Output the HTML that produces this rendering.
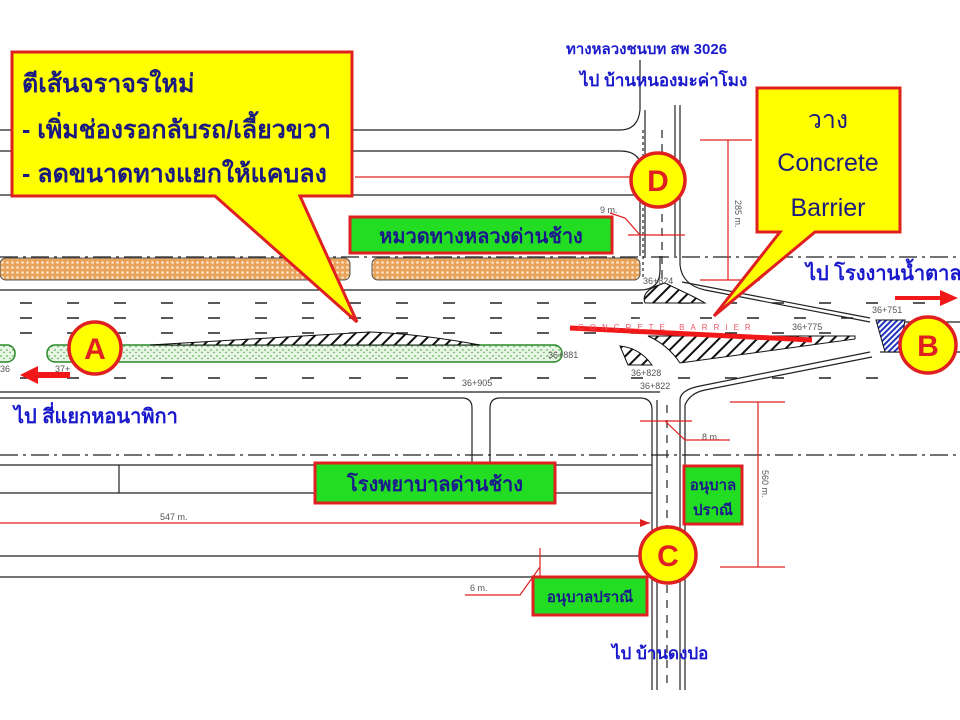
<!DOCTYPE html>
<html><head><meta charset="utf-8"><style>
html,body{margin:0;padding:0;background:#fff;}
svg{display:block;}
text{font-family:"Liberation Sans","Noto Sans CJK SC","WenQuanYi Zen Hei",sans-serif;}
</style></head><body>
<svg width="960" height="720" viewBox="0 0 960 720" xmlns="http://www.w3.org/2000/svg">
<defs>
<pattern id="dots" width="5" height="5" patternUnits="userSpaceOnUse"><rect width="5" height="5" fill="#e9a35a"/><circle cx="2.5" cy="2.5" r="1.3" fill="#fbe7cf"/></pattern>
<pattern id="grn" width="6" height="6" patternUnits="userSpaceOnUse"><rect width="6" height="6" fill="#e8f5e4"/><circle cx="1" cy="2" r="0.9" fill="#5cb85c"/><circle cx="4" cy="4.5" r="0.7" fill="#3c9c3c"/></pattern>
<pattern id="hatch" width="9" height="9" patternUnits="userSpaceOnUse" patternTransform="rotate(45)"><rect width="9" height="9" fill="#fff"/><rect width="2" height="9" fill="#111"/></pattern>
<pattern id="bhatch" width="4" height="4" patternUnits="userSpaceOnUse" patternTransform="rotate(45)"><rect width="4" height="4" fill="#fff"/><rect width="2" height="4" fill="#2233bb"/></pattern>
</defs>
<g fill="none" stroke="#222" stroke-width="1.2">
<path d="M0 130 H620 Q638 130 640 110 V60"/>
<path d="M0 151 H620 Q638 151 641 165"/>
<path d="M0 195 H640"/>
<path d="M645 110 V256 M640 195 V256"/>
<path d="M675 105 V256 M680 105 V256"/>
<path d="M643 130 V280" stroke-dasharray="3 3"/>
<path d="M662 130 V280" stroke-dasharray="8 6"/>
<path d="M0 290 H640 Q660 290 660 270 V256"/>
<path d="M680 256 V265 Q682 285 705 290 L870 322"/>
<path d="M682 282 L870 318"/>
<path d="M0 392 H660"/>
<path d="M0 398 H462 Q472 398 472 408 V465"/>
<path d="M490 465 V408 Q490 398 500 398 H640 Q652 398 652 410 V690"/>
<path d="M657 400 V690"/>
<path d="M680 690 V400 Q680 390 700 386 L870 352"/>
<path d="M685 690 V405 Q690 393 705 390 L872 357"/>
<path d="M667 405 V690" stroke-dasharray="8 7"/>
<path d="M0 465 H652 M0 493 H315 M555 493 H652"/>
<path d="M119 465 V493"/>
<path d="M0 556 H652 M0 577 H533"/>
<path d="M880 322 H960 M880 352 H960"/>
</g>
<path d="M0 257 H960" stroke="#222" stroke-width="1.2" stroke-dasharray="18 5 3 5"/>
<path d="M0 455 H960" stroke="#222" stroke-width="1.2" stroke-dasharray="18 5 3 5"/>
<rect x="0" y="258" width="350" height="22" rx="6" fill="url(#dots)" stroke="#555"/>
<rect x="372" y="258" width="268" height="22" rx="6" fill="url(#dots)" stroke="#555"/>
<g stroke="#222" stroke-width="1.4">
<path d="M20 303 H960" stroke-dasharray="12 35"/>
<path d="M20 318 H640" stroke-dasharray="12 35"/>
<path d="M20 333 H860" stroke-dasharray="12 35"/>
<path d="M20 378 H880" stroke-dasharray="12 35"/>
<path d="M700 318 H860" stroke-dasharray="12 35"/>
</g>
<rect x="-10" y="345" width="25" height="17" rx="8" fill="url(#grn)" stroke="#2a8a2a" stroke-width="1.5"/>
<rect x="47" y="345" width="515" height="17" rx="8" fill="url(#grn)" stroke="#2a8a2a" stroke-width="1.5"/>
<path d="M150 345 Q300 336 370 332 Q420 334 480 345 Z" fill="url(#hatch)" stroke="#111"/>
<path d="M645 303 Q640 290 665 283 L690 295 Q700 300 705 303 Z" fill="url(#hatch)" stroke="#111"/>
<path d="M648 336 L855 336 L855 339 L680 363 Q668 345 648 336 Z" fill="url(#hatch)" stroke="#111"/>
<path d="M620 346 Q640 348 652 365 L628 365 Z" fill="url(#hatch)" stroke="#111"/>
<path d="M876 320 H905 L900 352 H885 Z" fill="url(#bhatch)" stroke="#111"/>
<line x1="570" y1="328" x2="812" y2="340" stroke="#f01818" stroke-width="5"/>
<text x="578" y="330" font-size="8" fill="#e56" letter-spacing="6">CONCRETE BARRIER</text>
<g font-size="9" fill="#555">
<text x="643" y="284">36+824</text><text x="792" y="330">36+775</text><text x="872" y="313">36+751</text>
<text x="548" y="358">36+881</text><text x="631" y="376">36+828</text><text x="640" y="389">36+822</text>
<text x="462" y="386">36+905</text><text x="0" y="372">36</text><text x="55" y="372">37+</text>
<text x="600" y="213">9 m.</text><text x="702" y="440">8 m.</text><text x="470" y="591">6 m.</text>
<text x="160" y="520">547 m.</text>
<text transform="translate(735,200) rotate(90)">285 m.</text>
<text transform="translate(762,470) rotate(90)">560 m.</text>
</g>
<g stroke="#e02020" stroke-width="1.2" fill="none">
<path d="M355 177 H630"/>
<path d="M700 140 H752 M728 140 V280 M700 280 H760"/>
<path d="M0 523 H650"/>
<path d="M730 402 H785 M758 402 V567 M720 567 H785"/>
<path d="M610 213 L625 218 L640 235 M628 235 H685"/>
<path d="M640 421 H692 M665 421 L685 440 H730"/>
<path d="M540 548 V585 M540 567 L520 595 H465"/>
</g>
<path d="M640 519 L650 523 L640 527 Z" fill="#e02020"/>
<path d="M895 296 H940 V290 L958 298 L940 306 V300 H895 Z" fill="#f01818"/>
<path d="M70 372 H38 V366 L20 375 L38 384 V378 H70 Z" fill="#f01818"/>
<path d="M12 52 H352 V196 H300 L357 322 L215 196 H12 Z" fill="#ffff00" stroke="#e02020" stroke-width="3"/>
<g font-size="25" font-weight="bold" fill="#1a1a80">
<text x="22" y="92">ตีเส้นจราจรใหม่</text>
<text x="22" y="138">- เพิ่มช่องรอกลับรถ/เลี้ยวขวา</text>
<text x="22" y="182">- ลดขนาดทางแยกให้แคบลง</text>
</g>
<path d="M757 88 H900 V232 H815 L714 316 L780 232 H757 Z" fill="#ffff00" stroke="#e02020" stroke-width="3"/>
<g font-size="25" fill="#1a1a80" text-anchor="middle">
<text x="828" y="128">วาง</text><text x="828" y="171">Concrete</text><text x="828" y="216">Barrier</text>
</g>
<rect x="350" y="217" width="262" height="36" fill="#22dd22" stroke="#e02020" stroke-width="3"/>
<text x="481" y="243" font-size="20" font-weight="bold" fill="#1a1a8c" text-anchor="middle">หมวดทางหลวงด่านช้าง</text>
<rect x="315" y="463" width="240" height="40" fill="#22dd22" stroke="#e02020" stroke-width="3"/>
<text x="435" y="491" font-size="20" font-weight="bold" fill="#1a1a8c" text-anchor="middle">โรงพยาบาลด่านช้าง</text>
<rect x="684" y="466" width="58" height="58" fill="#22dd22" stroke="#e02020" stroke-width="3"/>
<text x="713" y="490" font-size="15" font-weight="bold" fill="#1a1a8c" text-anchor="middle">อนุบาล</text>
<text x="713" y="515" font-size="15" font-weight="bold" fill="#1a1a8c" text-anchor="middle">ปราณี</text>
<rect x="533" y="577" width="114" height="38" fill="#22dd22" stroke="#e02020" stroke-width="3"/>
<text x="590" y="602" font-size="15" font-weight="bold" fill="#1a1a8c" text-anchor="middle">อนุบาลปราณี</text>
<g fill="#ffff00" stroke="#e02020" stroke-width="3.5">
<circle cx="95" cy="348" r="26"/><circle cx="928" cy="345" r="28"/>
<circle cx="658" cy="180" r="27"/><circle cx="668" cy="555" r="28"/>
</g>
<g font-size="30" font-weight="bold" fill="#e02020" text-anchor="middle">
<text x="95" y="359">A</text><text x="928" y="356">B</text><text x="658" y="191">D</text><text x="668" y="566">C</text>
</g>
<g fill="#1a1acc" font-weight="bold">
<text x="566" y="54" font-size="15">ทางหลวงชนบท สพ 3026</text>
<text x="580" y="86" font-size="17">ไป บ้านหนองมะค่าโมง</text>
<text x="806" y="280" font-size="20">ไป โรงงานน้ำตาล</text>
<text x="14" y="423" font-size="20">ไป สี่แยกหอนาพิกา</text>
<text x="612" y="659" font-size="17">ไป บ้านดงปอ</text>
</g>
</svg>
</body></html>
